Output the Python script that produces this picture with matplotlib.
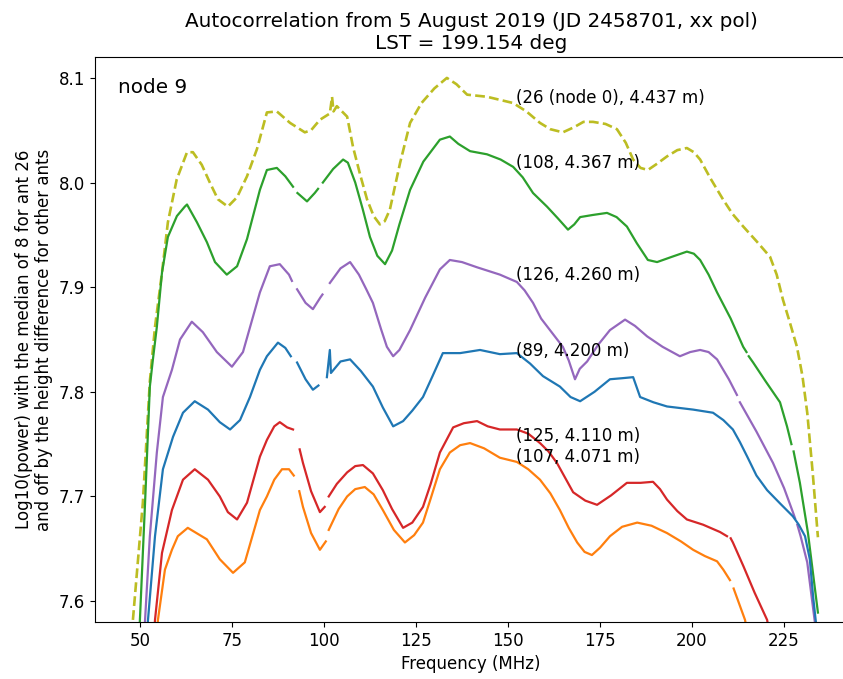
import numpy as np
import matplotlib
matplotlib.use("Agg")
import matplotlib.pyplot as plt

nan = np.nan

# ant 26 (node 0) - olive dashed
f26 = [48.1, 50.8, 52.7, 54.1, 56.0, 57.6, 60.0, 62.8, 64.4, 66.8, 69.0, 71.2, 73.9, 76.4, 79.1,
       81.8, 84.5, 87.2, 90.8, 94.8, 96.5, 98.9, 101.6, 102.2, 102.6, 103.5, 106.3, 107.9, 109.8,
       111.7, 113.5, 115.2, 116.5, 117.9, 120.7, 123.4, 126.5, 130.0, 133.4, 136.0, 138.9, 144.3,
       151.4, 155.0, 158.7, 161.5, 164.9, 168.0, 170.5, 173.1, 176.5, 179.6, 182.0, 184.0, 186.0,
       188.0, 190.5, 193.2, 196.0, 198.6, 200.5, 202.2, 205.0, 208.4, 211.0, 213.9, 217.5, 221.2,
       223.0, 224.7, 226.6, 228.5, 230.0, 231.3, 232.8, 234.2]
v26 = [7.582, 7.694, 7.810, 7.862, 7.914, 7.962, 8.003, 8.029, 8.029, 8.017, 8.000, 7.984, 7.977, 7.986, 8.006,
       8.032, 8.067, 8.068, 8.057, 8.048, 8.050, 8.060, 8.066, 8.082, 8.068, 8.073, 8.063, 8.034, 8.008,
       7.984, 7.968, 7.960, 7.963, 7.974, 8.019, 8.057, 8.076, 8.090, 8.100, 8.094, 8.084, 8.082,
       8.076, 8.068, 8.057, 8.051, 8.048, 8.053, 8.058, 8.058, 8.056, 8.051, 8.038, 8.022, 8.014,
       8.012, 8.018, 8.025, 8.031, 8.033, 8.029, 8.022, 8.004, 7.984, 7.970, 7.958, 7.944, 7.929,
       7.912, 7.888, 7.866, 7.843, 7.815, 7.780, 7.722, 7.661]

# ant 108 - green
f108 = [49.6, 50.0, 51.4, 52.7, 53.5, 54.6, 56.0, 57.6, 60.05, 62.2, 62.8, 65.5, 68.2, 70.4, 73.6,
        76.4, 79.1, 82.6, 84.5, 87.2, 89.5, 91.6, 92.0, 92.8, 95.4, 97.5, 98.4, 99.0, 99.7, 102.5,
        105.2, 106.5, 108.5, 110.5, 112.5, 114.5, 116.6, 118.5, 120.5, 123.4, 127.0, 131.5, 134.2,
        136.5, 139.7, 144.3, 148.0, 151.4, 154.0, 156.8, 160.6, 163.5, 166.3, 168.0, 169.6, 173.0,
        176.9, 179.5, 182.3, 185.0, 188.0, 190.5, 194.5, 198.6, 200.5, 202.2, 204.5, 206.8, 210.5,
        213.9, 214.8, 215.0, 215.4, 216.6, 220.0, 223.9, 225.8, 227.0, 227.3, 227.6, 229.3, 231.5, 234.2]
v108 = [7.55, 7.582, 7.694, 7.805, 7.830, 7.862, 7.914, 7.948, 7.968, 7.977, 7.979, 7.962, 7.943, 7.924, 7.912,
        7.920, 7.946, 7.993, 8.012, 8.014, 8.006, 7.996, nan, 7.990, 7.982, 7.990, 7.994, nan, 8.000, 8.013,
        8.022, 8.019, 8.000, 7.975, 7.948, 7.930, 7.922, 7.935, 7.960, 7.993, 8.020, 8.041, 8.044,
        8.037, 8.030, 8.027, 8.022, 8.015, 8.005, 7.990, 7.977, 7.966, 7.955, 7.960, 7.967, 7.969,
        7.971, 7.967, 7.958, 7.942, 7.926, 7.924, 7.929, 7.934, 7.932, 7.926, 7.912, 7.895, 7.870,
        7.843, 7.838, nan, 7.834, 7.828, 7.810, 7.790, 7.767, 7.750, nan, 7.743, 7.713, 7.665, 7.589]

# ant 126 - purple
f126 = [50.9, 51.4, 52.7, 54.6, 56.25, 58.7, 60.9, 64.1, 67.1, 70.9, 75.0, 78.0, 82.6, 85.3, 88.0,
        90.5, 91.3, 92.2, 92.7, 95.0, 97.0, 99.0, 99.6, 100.4, 101.6, 104.5, 107.1, 109.5, 111.5,
        113.3, 115.5, 117.1, 118.8, 120.5, 123.4, 127.5, 131.5, 134.2, 137.5, 141.6, 147.8, 152.4,
        154.5, 156.8, 159.0, 161.4, 164.9, 166.5, 168.2, 169.5, 171.5, 174.5, 177.7, 181.8, 184.5,
        187.8, 192.0, 196.7, 199.5, 202.2, 204.5, 206.8, 210.0, 212.2, 212.6, 213.0, 217.5, 222.0,
        225.0, 227.4, 228.0, 228.3, 228.6, 229.5, 231.3, 233.4]
v126 = [7.55, 7.582, 7.662, 7.742, 7.795, 7.821, 7.850, 7.867, 7.857, 7.838, 7.824, 7.838, 7.895, 7.920, 7.922,
        7.912, 7.906, nan, 7.898, 7.885, 7.879, 7.890, 7.893, nan, 7.904, 7.918, 7.924, 7.912, 7.898,
        7.885, 7.860, 7.843, 7.834, 7.840, 7.859, 7.890, 7.917, 7.926, 7.924, 7.919, 7.912, 7.905,
        7.897, 7.885, 7.870, 7.859, 7.843, 7.830, 7.812, 7.822, 7.829, 7.845, 7.859, 7.869, 7.863,
        7.853, 7.843, 7.834, 7.838, 7.840, 7.838, 7.831, 7.812, 7.797, nan, 7.790, 7.762, 7.732,
        7.708, 7.685, 7.679, nan, 7.673, 7.662, 7.637, 7.579]

# ant 89 - blue
f89 = [51.6, 52.2, 54.1, 56.25, 59.0, 61.7, 64.9, 68.5, 71.7, 74.5, 77.2, 79.9, 82.6, 84.5, 87.5,
       89.5, 91.0, 91.7, 92.7, 95.0, 97.0, 98.5, 99.2, 100.8, 101.6, 101.9, 104.5, 107.1, 110.0,
       113.3, 116.0, 118.8, 121.5, 124.0, 126.9, 129.5, 132.3, 137.0, 142.4, 147.8, 152.4, 156.0,
       159.5, 164.1, 167.0, 169.6, 173.5, 177.7, 181.0, 184.0, 185.9, 189.5, 193.2, 200.3, 205.7,
       208.5, 211.1, 213.0, 215.0, 217.5, 220.4, 224.0, 227.4, 229.0, 230.7, 232.0, 232.9, 233.8]
v89 = [7.55, 7.582, 7.662, 7.726, 7.757, 7.780, 7.791, 7.783, 7.771, 7.764, 7.773, 7.795, 7.821, 7.834, 7.847,
       7.842, 7.834, nan, 7.828, 7.812, 7.802, 7.806, nan, 7.814, 7.840, 7.818, 7.829, 7.831, 7.820,
       7.805, 7.785, 7.767, 7.772, 7.782, 7.795, 7.815, 7.837, 7.837, 7.840, 7.836, 7.837, 7.827,
       7.815, 7.805, 7.795, 7.791, 7.800, 7.812, 7.813, 7.814, 7.795, 7.790, 7.786, 7.783, 7.780,
       7.773, 7.764, 7.752, 7.738, 7.720, 7.706, 7.693, 7.681, 7.673, 7.662, 7.640, 7.604, 7.575]

# ant 125 - red
f125 = [53.6, 54.1, 56.0, 58.7, 61.7, 64.9, 68.5, 71.7, 73.9, 76.4, 79.1, 82.6, 84.5, 86.5, 88.0,
        90.0, 91.6, 92.4, 93.4, 94.3, 96.5, 98.9, 100.2, 100.7, 101.3, 103.5, 106.3, 108.5, 110.6,
        113.3, 116.0, 118.5, 121.5, 124.0, 126.9, 129.0, 131.5, 135.1, 138.0, 141.6, 144.5, 147.8,
        152.4, 155.5, 158.7, 161.0, 163.3, 165.5, 167.7, 171.0, 174.2, 178.0, 182.3, 186.0, 189.4,
        191.3, 193.2, 196.0, 198.6, 203.0, 207.6, 209.5, 210.0, 210.5, 211.1, 214.0, 217.0, 220.4, 221.0]
v125 = [7.55, 7.582, 7.646, 7.687, 7.716, 7.726, 7.716, 7.700, 7.685, 7.678, 7.694, 7.738, 7.754, 7.767, 7.771,
        7.766, 7.764, nan, 7.745, 7.732, 7.705, 7.685, 7.690, nan, 7.700, 7.712, 7.723, 7.729, 7.730,
        7.722, 7.706, 7.688, 7.670, 7.675, 7.690, 7.712, 7.742, 7.766, 7.770, 7.772, 7.767, 7.764,
        7.764, 7.760, 7.751, 7.743, 7.732, 7.718, 7.704, 7.696, 7.692, 7.701, 7.713, 7.713, 7.714,
        7.707, 7.697, 7.686, 7.678, 7.673, 7.666, 7.662, nan, 7.660, 7.656, 7.633, 7.608, 7.582, 7.57]

# ant 107 - orange
f107 = [54.3, 54.9, 56.8, 58.7, 60.3, 63.0, 68.2, 71.7, 75.3, 78.5, 82.6, 84.5, 86.5, 88.6, 90.5,
        91.8, 92.5, 93.3, 94.3, 96.5, 98.9, 100.5, 100.9, 101.3, 104.0, 106.3, 108.5, 111.1, 113.5,
        116.0, 119.0, 122.0, 124.5, 126.9, 129.0, 131.5, 134.2, 137.0, 139.7, 143.5, 147.8, 152.4,
        155.5, 158.7, 161.5, 164.1, 166.5, 168.8, 170.8, 172.8, 175.0, 177.7, 181.0, 185.1, 189.0,
        193.2, 197.0, 200.3, 203.5, 206.8, 208.5, 210.3, 210.8, 211.3, 214.4, 215.0]
v107 = [7.55, 7.582, 7.630, 7.649, 7.662, 7.670, 7.659, 7.640, 7.627, 7.637, 7.687, 7.700, 7.716, 7.726, 7.726,
        7.720, nan, 7.705, 7.690, 7.665, 7.649, 7.657, nan, 7.668, 7.688, 7.700, 7.707, 7.709, 7.702,
        7.687, 7.668, 7.656, 7.663, 7.675, 7.698, 7.726, 7.742, 7.749, 7.751, 7.746, 7.737, 7.733,
        7.726, 7.716, 7.703, 7.687, 7.670, 7.656, 7.647, 7.644, 7.651, 7.662, 7.671, 7.675, 7.672,
        7.665, 7.657, 7.649, 7.643, 7.638, 7.630, 7.620, nan, 7.612, 7.582, 7.57]

labels = ["(26 (node 0), 4.437 m)", "(108, 4.367 m)", "(126, 4.260 m)",
          "(89, 4.200 m)", "(125, 4.110 m)", "(107, 4.071 m)"]
label_y = [8.081, 8.019, 7.912, 7.839, 7.758, 7.738]
label_x = 152.2

xticks = [50, 75, 100, 125, 150, 175, 200, 225]
yticks = [7.6, 7.7, 7.8, 7.9, 8.0, 8.1]

plt.rcParams['font.size'] = 12

fig = plt.figure(figsize=(8.43, 6.79), dpi=100)
ax = fig.add_axes([95/843, 1-622/679, 752/843, (622-57)/679])

ax.plot(f26, v26, color="#bcbd22", lw=1.9, ls="--")
ax.plot(f108, v108, color="#2ca02c", lw=1.6)
ax.plot(f126, v126, color="#9467bd", lw=1.6)
ax.plot(f89, v89, color="#1f77b4", lw=1.6)
ax.plot(f125, v125, color="#d62728", lw=1.6)
ax.plot(f107, v107, color="#ff7f0e", lw=1.6)

for t, y in zip(labels, label_y):
    ax.text(label_x, y, t, fontsize=12, va="center", ha="left")

ax.text(0.031, 0.962, "node 9", transform=ax.transAxes, fontsize=14.4, va="top", ha="left")

ax.set_xlim(37.8, 242.1)
ax.set_ylim(7.58, 8.12)
ax.set_xticks(xticks)
ax.set_yticks(yticks)
ax.tick_params(labelsize=12)
ax.set_xlabel("Frequency (MHz)", fontsize=12)
ax.set_ylabel("Log10(power) with the median of 8 for ant 26\nand off by the height difference for other ants",
              fontsize=12)
ax.set_title("Autocorrelation from 5 August 2019 (JD 2458701, xx pol)\nLST = 199.154 deg", fontsize=14.4)

fig.savefig("out.png", dpi=100)
